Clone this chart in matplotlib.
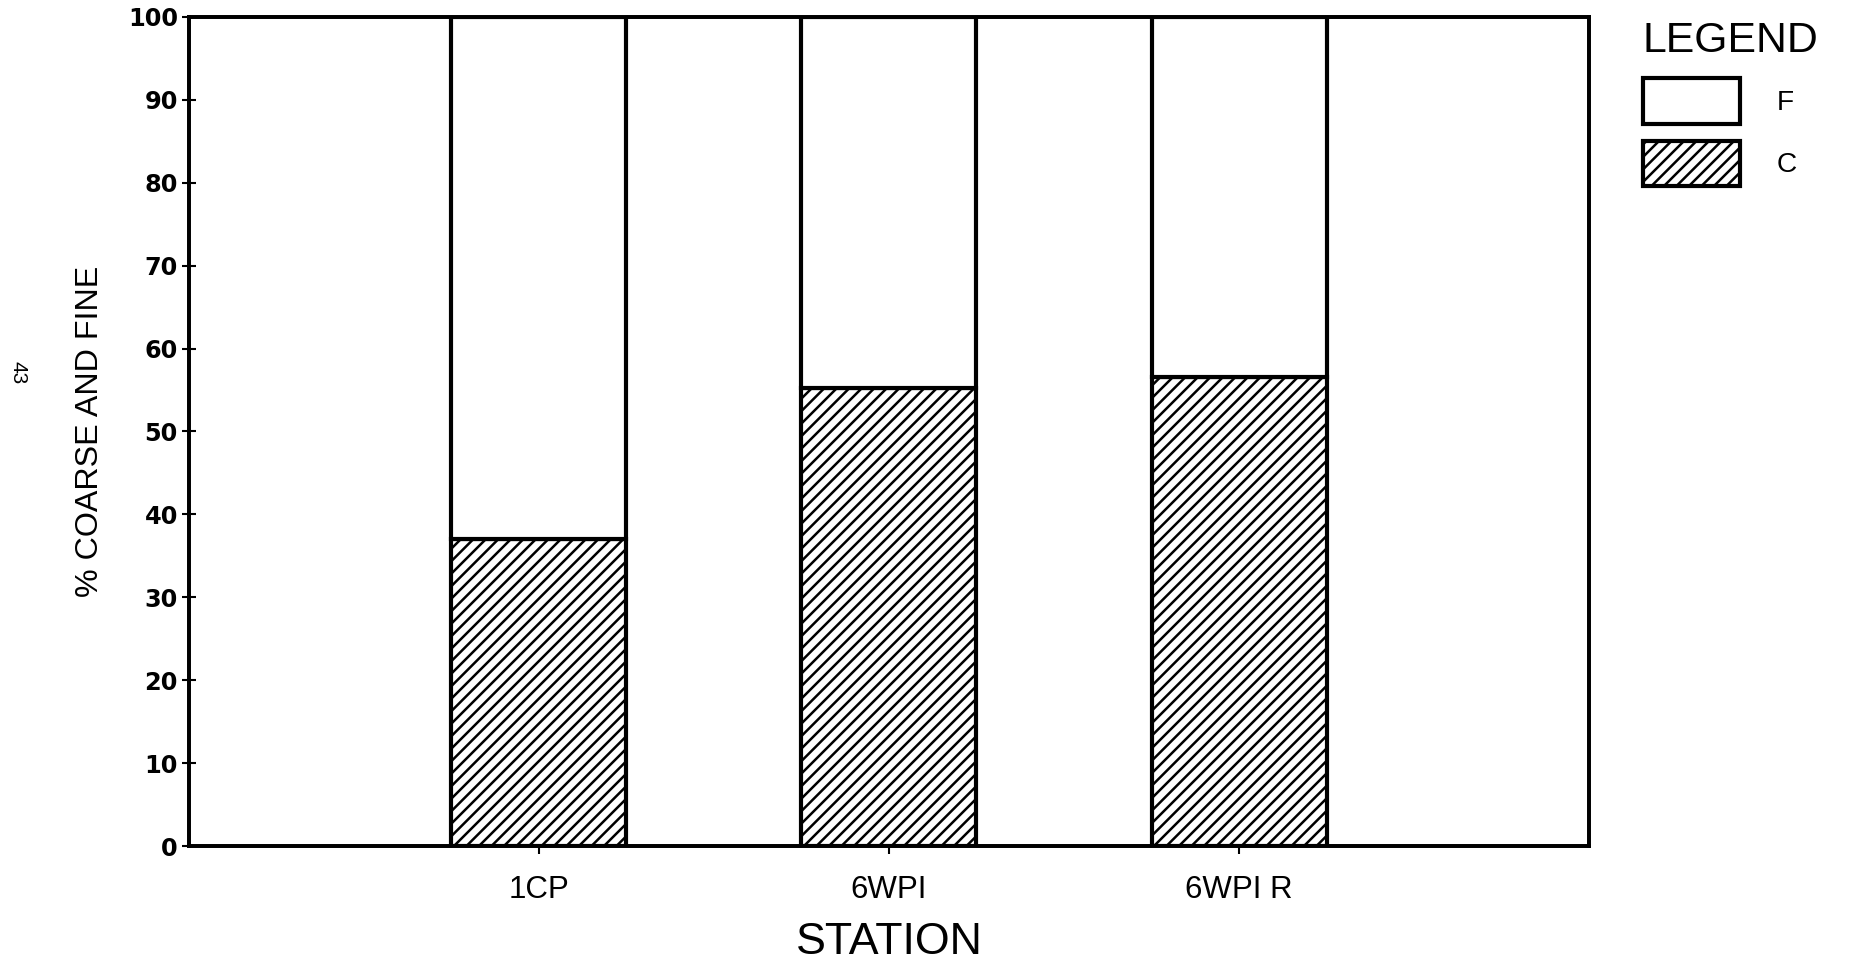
import matplotlib
matplotlib.use('Agg')
import matplotlib.pyplot as plt

# ---- data ----
stations = ['1CP', '6WPI', '6WPI R']
coarse = [37.0, 55.3, 56.6]
fine = [100 - c for c in coarse]
yticks = list(range(0, 101, 10))
positions = [1, 2, 3]

DPI = 150
W, H = 1856, 959
plt.rcParams['hatch.linewidth'] = 1.2
plt.rcParams['font.family'] = ['Liberation Sans', 'DejaVu Sans']

fig = plt.figure(figsize=(W / DPI, H / DPI), dpi=DPI)
ax = fig.add_axes([189 / W, 1 - 846 / H, 1400 / W, 829 / H])

bc = ax.bar(positions, coarse, width=0.5, color='white', edgecolor='black',
            hatch='////', linewidth=2.0, label='C', zorder=2)
bf = ax.bar(positions, fine, bottom=coarse, width=0.5, color='white',
            edgecolor='black', linewidth=2.0, label='F', zorder=2)

ax.set_xlim(0, 4)
ax.set_ylim(0, 100)
ax.set_yticks(yticks)
ax.set_xticks(positions)
ax.set_xticklabels(stations)

for s in ax.spines.values():
    s.set_linewidth(1.9)
    s.set_color('black')

ax.tick_params(axis='y', direction='inout', length=6.7, width=1.0, pad=2,
               labelsize=11.5)
ax.tick_params(axis='x', direction='inout', length=7.7, width=1.0, pad=10,
               labelsize=15)
for lab in ax.get_yticklabels():
    lab.set_fontfamily('DejaVu Sans')
    lab.set_fontweight('bold')

ax.set_xlabel('STATION', fontsize=21.5, labelpad=8)
ax.set_ylabel('% COARSE AND FINE', fontsize=15.5, labelpad=11)

fig.legend(handles=[bf, bc], labels=['F', 'C'], title='LEGEND',
           loc='upper left', bbox_to_anchor=(1643 / W, 1 - 21 / H),
           frameon=False, borderpad=0, borderaxespad=0,
           handlelength=3.45, handleheight=2.13, handletextpad=1.3,
           labelspacing=0.6, fontsize=13.5, title_fontsize=20.5,
           alignment='left')

fig.text(18 / W, 1 - 373 / H, '43', rotation=-90, fontsize=10,
         ha='center', va='center')

fig.savefig('out.png', dpi=DPI)
